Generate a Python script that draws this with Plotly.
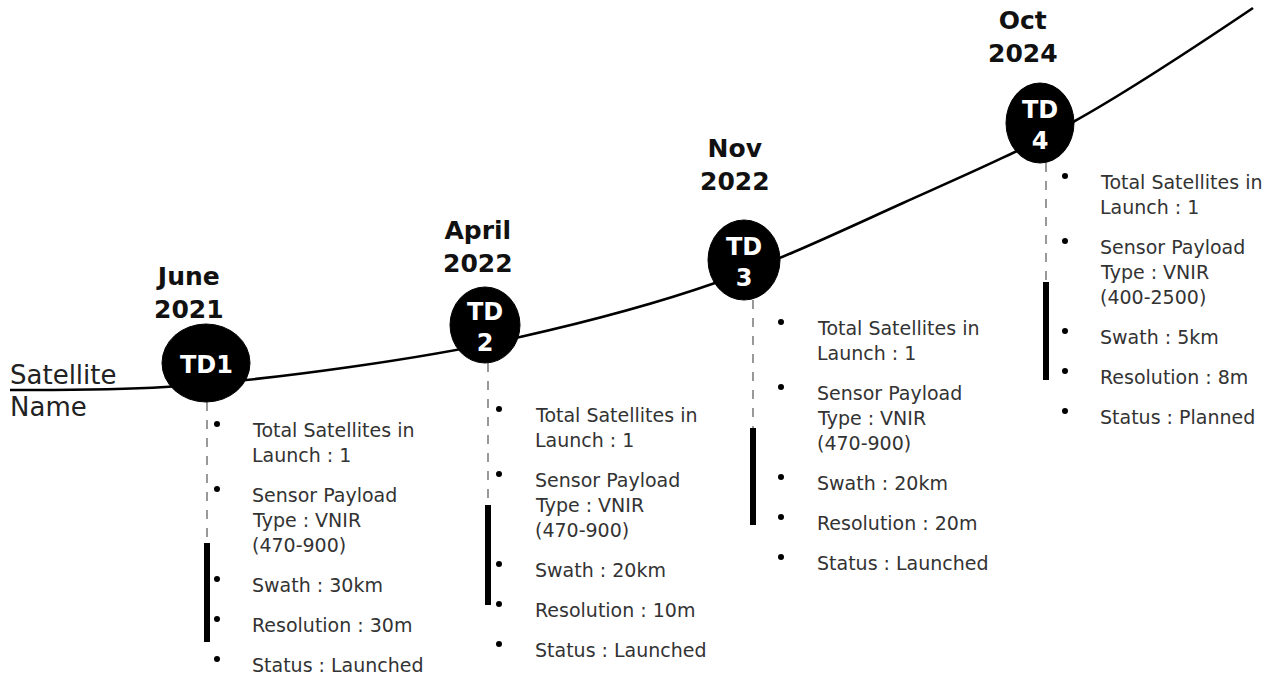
import plotly.graph_objects as go

# ---------------- data ----------------
satellites = ["TD1", "TD<br>2", "TD<br>3", "TD<br>4"]
launch_dates = ["June<br>2021", "April<br>2022", "Nov<br>2022", "Oct<br>2024"]
total_satellites = [1, 1, 1, 1]
payload_type = ["VNIR<br>(470-900)", "VNIR<br>(470-900)", "VNIR<br>(470-900)", "VNIR<br>(400-2500)"]
swath_km = [30, 20, 20, 5]
resolution_m = [30, 10, 20, 8]
status = ["Launched", "Launched", "Launched", "Planned"]

# timeline curve path (pixel space of the 1278x677 canvas)
curve_x = [10, 165, 350, 520, 715, 903, 1073, 1253]
curve_y = [390, 387, 367, 337, 283, 203, 122, 8]

# layout positions of each node
node_x = [206, 485, 744, 1040]
node_y = [363, 325, 260, 123]
node_rx = [44, 35, 36, 34]
node_ry = [39, 38, 40, 40]
title_x = [189, 478, 735, 1023]
title_y = [293, 247, 165, 37]
stem_x = [207, 488, 753, 1046]
stem_dash_end = [543, 505, 428, 282]
stem_solid_end = [642, 605, 525, 380]
bullet_x = [217, 499, 781, 1065]
text_x = [250, 533, 815, 1098]
text_first_y = [430, 415, 328, 182]
LINE_H = 25
ITEM_GAP = 15

FONT_BODY = "'DejaVu Sans', sans-serif"
FONT_BOLD = "'DejaVu Sans', sans-serif"

fig = go.Figure()

# curve
fig.add_trace(go.Scatter(
    x=curve_x, y=curve_y, mode="lines",
    line=dict(color="black", width=2.6, shape="spline", smoothing=1.0),
    hoverinfo="skip"))

shapes = []
annotations = []
bx, by = [], []

for i in range(len(satellites)):
    # stems
    shapes.append(dict(type="line", xref="x", yref="y",
                       x0=stem_x[i], x1=stem_x[i],
                       y0=node_y[i] + node_ry[i], y1=stem_dash_end[i],
                       line=dict(color="#555555", width=1.2, dash="dash"), layer="below"))
    shapes.append(dict(type="line", xref="x", yref="y",
                       x0=stem_x[i], x1=stem_x[i],
                       y0=stem_dash_end[i], y1=stem_solid_end[i],
                       line=dict(color="black", width=6), layer="above"))
    # node circle
    shapes.append(dict(type="circle", xref="x", yref="y",
                       x0=node_x[i] - node_rx[i], x1=node_x[i] + node_rx[i],
                       y0=node_y[i] - node_ry[i], y1=node_y[i] + node_ry[i],
                       fillcolor="black", line=dict(color="black", width=1), layer="above"))
    annotations.append(dict(x=node_x[i], y=node_y[i] + 2, text="<b>%s</b>" % satellites[i],
                            showarrow=False, xanchor="center", yanchor="middle",
                            font=dict(family=FONT_BOLD, size=24, color="white")))
    # date title
    annotations.append(dict(x=title_x[i], y=title_y[i], text="<b>%s</b>" % launch_dates[i],
                            showarrow=False, xanchor="center", yanchor="middle",
                            font=dict(family=FONT_BOLD, size=25, color="#111111")))
    # detail items
    items = [
        "Total Satellites in<br>Launch : %d" % total_satellites[i],
        "Sensor Payload<br>Type : %s" % payload_type[i],
        "Swath : %dkm" % swath_km[i],
        "Resolution : %dm" % resolution_m[i],
        "Status : %s" % status[i],
    ]
    y = text_first_y[i]
    for item in items:
        lines = item.split("<br>")
        bx.append(bullet_x[i])
        by.append(y - 6)
        for ln in lines:
            annotations.append(dict(x=text_x[i], y=y, text=ln, showarrow=False,
                                    xanchor="left", yanchor="middle",
                                    font=dict(family=FONT_BODY, size=19, color="#333333")))
            y += LINE_H
        y += ITEM_GAP

fig.add_trace(go.Scatter(x=bx, y=by, mode="markers",
                         marker=dict(color="black", size=6), hoverinfo="skip"))

annotations.append(dict(x=8, y=375, text="Satellite", showarrow=False,
                        xanchor="left", yanchor="middle",
                        font=dict(family=FONT_BODY, size=26, color="#222222")))
annotations.append(dict(x=8, y=407, text="Name", showarrow=False,
                        xanchor="left", yanchor="middle",
                        font=dict(family=FONT_BODY, size=26, color="#222222")))

fig.update_layout(
    width=1278, height=677,
    margin=dict(l=0, r=0, t=0, b=0),
    paper_bgcolor="white", plot_bgcolor="white",
    showlegend=False,
    xaxis=dict(range=[0, 1278], visible=False, fixedrange=True),
    yaxis=dict(range=[677, 0], visible=False, fixedrange=True),
    shapes=shapes, annotations=annotations,
)

fig.write_html("out.html", config={"displayModeBar": False},
               post_script="document.body.style.margin='0';document.body.style.overflow='hidden';")
